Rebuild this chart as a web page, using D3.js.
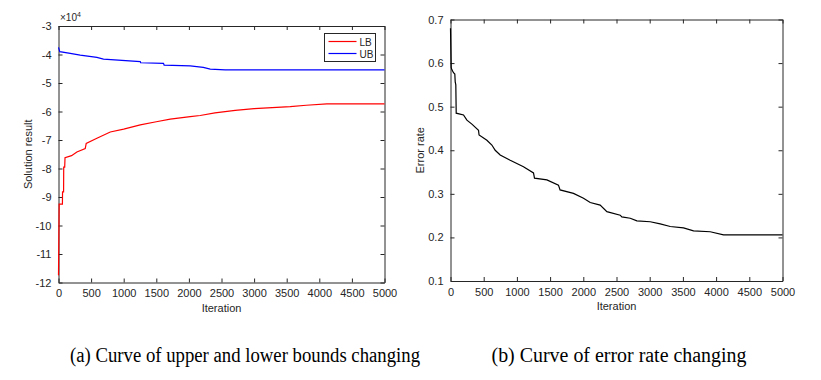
<!DOCTYPE html>
<html>
<head>
<meta charset="utf-8">
<script src="https://cdn.jsdelivr.net/npm/d3@7"></script>
<style>
  body { margin: 0; background: #fff; }
  svg { display: block; }
  .tick text { font-family: "Liberation Sans", Arial, sans-serif; font-size: 11px; fill: #262626; }
  .lbl { font-family: "Liberation Sans", Arial, sans-serif; font-size: 11px; fill: #262626; }
  .cap { font-family: "Liberation Serif", "Times New Roman", serif; font-size: 20px; fill: #000; }
</style>
</head>
<body>
<div id="chart"></div>
<script>
// Iteration ticks shared by both panels
var iterTicks = [0, 500, 1000, 1500, 2000, 2500, 3000, 3500, 4000, 4500, 5000];
var boundTicks = [-12, -11, -10, -9, -8, -7, -6, -5, -4, -3];
var errTicks = [0.1, 0.2, 0.3, 0.4, 0.5, 0.6, 0.7];

// Lower bound (x10^4)
var lbIter = [0, 10, 60, 62, 78, 80, 95, 100, 200, 282, 410, 425, 589, 794, 1000, 1254, 1500, 1714, 2020, 2173, 2400, 2710, 3000, 3554, 3800, 4117, 5000];
var lbVal = [-11.75, -9.25, -9.25, -8.82, -8.82, -7.95, -7.95, -7.62, -7.55, -7.42, -7.3, -7.12, -6.94, -6.72, -6.62, -6.47, -6.36, -6.27, -6.18, -6.14, -6.05, -5.96, -5.9, -5.83, -5.78, -5.73, -5.73];

// Upper bound (x10^4)
var ubIter = [0, 20, 180, 333, 589, 690, 1254, 1260, 1610, 1620, 2020, 2220, 2327, 2557, 5000];
var ubVal = [-3.75, -3.9, -3.96, -4.02, -4.1, -4.16, -4.25, -4.29, -4.31, -4.37, -4.4, -4.45, -4.51, -4.54, -4.54];

// Error rate
var errIter = [0, 10, 20, 45, 65, 71, 80, 86, 196, 247, 322, 422, 430, 548, 623, 673, 748, 899, 1099, 1250, 1265, 1452, 1626, 1650, 1852, 2003, 2104, 2254, 2355, 2556, 2580, 2707, 2807, 3008, 3158, 3309, 3509, 3660, 3911, 4112, 5000];
var errVal = [0.68, 0.59, 0.585, 0.578, 0.575, 0.557, 0.55, 0.485, 0.481, 0.469, 0.46, 0.446, 0.435, 0.423, 0.412, 0.40, 0.389, 0.377, 0.362, 0.348, 0.336, 0.332, 0.32, 0.309, 0.301, 0.29, 0.28, 0.274, 0.259, 0.251, 0.247, 0.244, 0.238, 0.236, 0.231, 0.225, 0.222, 0.215, 0.213, 0.206, 0.206];

var W = 821, H = 380;
var svg = d3.select("#chart").append("svg").attr("width", W).attr("height", H);

function zip(xs, ys) {
    return xs.map(function (x, i) { return [x, ys[i]]; });
}

function drawPanel(box, yDomain, yTicks, yFmt, series, yLabel) {
    var x = d3.scaleLinear().domain([0, 5000]).range([box.x0, box.x1]);
    var y = d3.scaleLinear().domain(yDomain).range([box.y1, box.y0]);
    var g = svg.append("g");

    // box axes with inward ticks (matlab style)
    g.append("g").attr("transform", "translate(0," + box.y1 + ")")
        .call(d3.axisBottom(x).tickValues(iterTicks).tickSizeInner(-4).tickSizeOuter(0).tickPadding(7).tickFormat(d3.format("d")));
    g.append("g").attr("transform", "translate(0," + box.y0 + ")")
        .call(d3.axisTop(x).tickValues(iterTicks).tickSizeInner(-4).tickSizeOuter(0).tickFormat(""));
    g.append("g").attr("transform", "translate(" + box.x0 + ",0)")
        .call(d3.axisLeft(y).tickValues(yTicks).tickSizeInner(-4).tickSizeOuter(0).tickPadding(7).tickFormat(yFmt));
    g.append("g").attr("transform", "translate(" + box.x1 + ",0)")
        .call(d3.axisRight(y).tickValues(yTicks).tickSizeInner(-4).tickSizeOuter(0).tickFormat(""));
    g.selectAll(".domain, .tick line").attr("stroke", "#262626");

    var line = d3.line().x(function (d) { return x(d[0]); }).y(function (d) { return y(d[1]); });
    series.forEach(function (s) {
        g.append("path").datum(s.data).attr("d", line)
            .attr("fill", "none").attr("stroke", s.color).attr("stroke-width", 1.2);
    });

    g.append("text").attr("class", "lbl").attr("text-anchor", "middle")
        .attr("x", (box.x0 + box.x1) / 2).attr("y", box.y1 + 29).text("Iteration");
    g.append("text").attr("class", "lbl").attr("text-anchor", "middle")
        .attr("transform", "translate(" + (box.x0 - 27) + "," + ((box.y0 + box.y1) / 2) + ") rotate(-90)")
        .text(yLabel);
    return { x: x, y: y, g: g };
}

var left = drawPanel({ x0: 58.5, x1: 384.5, y0: 26, y1: 282.5 }, [-12, -3], boundTicks,
    function (d) { return String(d); },
    [{ data: zip(lbIter, lbVal), color: "#ff0000" }, { data: zip(ubIter, ubVal), color: "#0000ff" }],
    "Solution result");

// exponent label
var expo = left.g.append("text").attr("class", "lbl").attr("x", 60).attr("y", 21).style("font-size", "10px");
expo.append("tspan").text("\u00d710");
expo.append("tspan").attr("dy", -4).style("font-size", "7px").text("4");

// legend
var leg = left.g.append("g").attr("transform", "translate(324.5,33.5)");
leg.append("rect").attr("width", 51).attr("height", 28).attr("fill", "#fff").attr("stroke", "#262626");
var legItems = [{ name: "LB", color: "#ff0000" }, { name: "UB", color: "#0000ff" }];
legItems.forEach(function (d, i) {
    var yy = 8 + i * 12;
    leg.append("line").attr("x1", 4).attr("x2", 32).attr("y1", yy).attr("y2", yy)
        .attr("stroke", d.color).attr("stroke-width", 1.2);
    leg.append("text").attr("class", "lbl").attr("x", 35).attr("y", yy + 4).style("font-size", "10px").text(d.name);
});

drawPanel({ x0: 450.5, x1: 782.5, y0: 19.5, y1: 281 }, [0.1, 0.7], errTicks,
    d3.format(".1f"),
    [{ data: zip(errIter, errVal), color: "#000" }],
    "Error rate");

// captions
svg.append("text").attr("class", "cap").attr("text-anchor", "middle").attr("x", 245).attr("y", 362)
    .attr("textLength", 350).attr("lengthAdjust", "spacingAndGlyphs")
    .text("(a) Curve of upper and lower bounds changing");
svg.append("text").attr("class", "cap").attr("text-anchor", "middle").attr("x", 619).attr("y", 362)
    .attr("textLength", 255).attr("lengthAdjust", "spacingAndGlyphs")
    .text("(b) Curve of error rate changing");
</script>
</body>
</html>
